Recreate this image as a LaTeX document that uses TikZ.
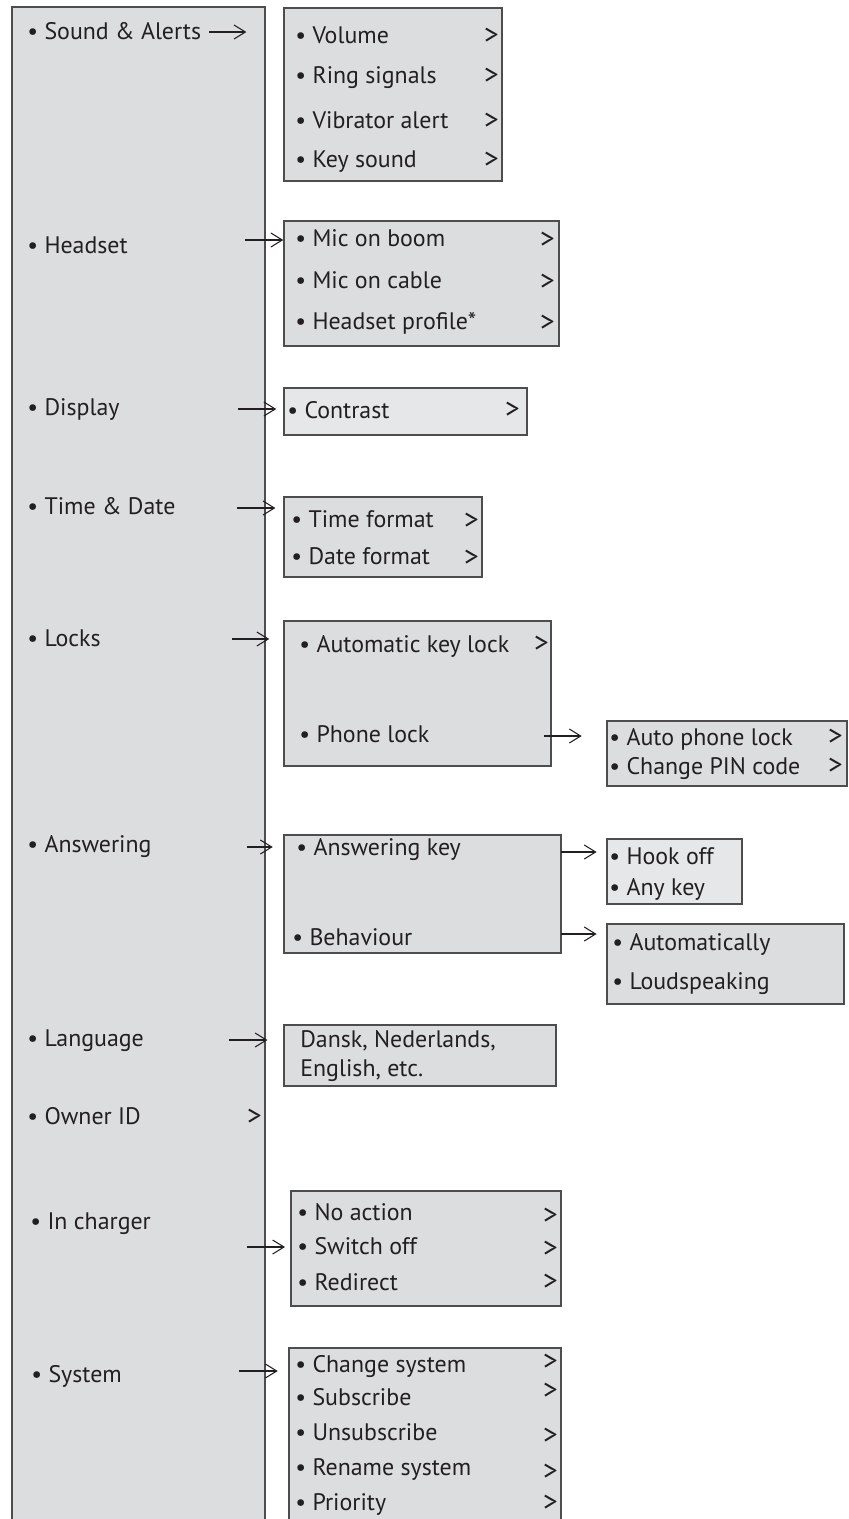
\documentclass[tikz,border=0pt]{standalone}
\usepackage{fontspec}
\setmainfont{PT Sans}
\usetikzlibrary{arrows.meta,fit}
\definecolor{panelgray}{HTML}{DCDDDF}
\definecolor{panellight}{HTML}{E6E7E8}
\definecolor{edgegray}{HTML}{4D4D4D}
\definecolor{inkgray}{HTML}{231F20}
\tikzset{
  menubox/.style={draw=edgegray,line width=0.8pt,fill=panelgray,inner sep=0pt},
  lightbox/.style={menubox,fill=panellight},
  item/.style={anchor=base west,inner sep=0pt,text=inkgray,font=\fontsize{13.6}{16}\selectfont},
  more/.style={anchor=base east,inner sep=0pt,text=inkgray,font=\fontsize{16.5}{18}\selectfont},
  menuarrow/.style={draw=inkgray,line width=0.6pt,-{Straight Barb[length=6.5pt,width=8pt,line width=0.6pt]}}
}

\begin{document}
\begin{tikzpicture}[x=0.02cm,y=-0.02cm]
                \useasboundingbox (0,0) rectangle (849,1519);
                \clip (0,0) rectangle (849,1519);
                % main menu column, open at the bottom
                \node[menubox,fit={(12,7) (265,1530)}](main){};
                \node[item](sound)at(27,39){\textbullet\ Sound \& Alerts};
                \node[item](headset)at(27,253){\textbullet\ Headset};
                \node[item](display)at(27,415){\textbullet\ Display};
                \node[item](timedate)at(27,514){\textbullet\ Time \& Date};
                \node[item](locks)at(27,646){\textbullet\ Locks};
                \node[item](answering)at(27,852){\textbullet\ Answering};
                \node[item](language)at(27,1046){\textbullet\ Language};
                \node[item](owner)at(27,1124){\textbullet\ Owner ID};
                \node[more](ownermore)at(262,1125){>};
                \node[item](charger)at(30,1229){\textbullet\ In charger};
                \node[item](system)at(31,1382){\textbullet\ System};
                % sub menus
                \node[menubox,fit={(284,8) (502,181)}](soundbox){};
                \foreach \t/\y [count=\i] in {Volume/43,Ring signals/83,Vibrator alert/128,Key sound/167}{
                    \node[item](snd\i)at(295,\y){\textbullet\ \t};
                    \node[more](sndm\i)at(499,\y+1){>};
                }
                \node[menubox,fit={(284,221) (559,346)}](headsetbox){};
                \foreach \t/\y [count=\i] in {Mic on boom/246,Mic on cable/288,Headset profile*/329}{
                    \node[item](hs\i)at(295,\y){\textbullet\ \t};
                    \node[more](hsm\i)at(555,\y+2){>};
                }
                \node[lightbox,fit={(284,388) (527,435)}](displaybox){};
                \node[item](contrast)at(287,418){\textbullet\ Contrast};
                \node[more](contrastm)at(520,418){>};
                \node[menubox,fit={(284,497) (482,577)}](timebox){};
                \node[item](timefmt)at(291,527){\textbullet\ Time format};
                \node[more](timefmtm)at(479,529){>};
                \node[item](datefmt)at(291,564){\textbullet\ Date format};
                \node[more](datefmtm)at(479,566){>};
                \node[menubox,fit={(284,621) (551,766)}](locksbox){};
                \node[item](keylock)at(299,652){\textbullet\ Automatic key lock};
                \node[more](keylockm)at(549,652){>};
                \node[item](phonelock)at(299,742){\textbullet\ Phone lock};
                \node[menubox,fit={(607,721) (847,786)}](phonebox){};
                \node[item](autophone)at(609,745){\textbullet\ Auto phone lock};
                \node[more](autophonem)at(843,745){>};
                \node[item](pincode)at(609,774){\textbullet\ Change PIN code};
                \node[more](pincodem)at(843,774){>};
                \node[menubox,fit={(284,835) (561,953)}](answerbox){};
                \node[item](answerkey)at(296,855){\textbullet\ Answering key};
                \node[item](behaviour)at(292,945){\textbullet\ Behaviour};
                \node[lightbox,fit={(607,839) (742,904)}](keybox){};
                \node[item](hookoff)at(609,864){\textbullet\ Hook off};
                \node[item](anykey)at(609,895){\textbullet\ Any key};
                \node[menubox,fit={(607,924) (844,1004)}](behavebox){};
                \node[item](auto)at(612,950){\textbullet\ Automatically};
                \node[item](loud)at(612,989){\textbullet\ Loudspeaking};
                \node[menubox,fit={(284,1025) (556,1086)}](langbox){};
                \node[item](langs1)at(300,1047){Dansk, Nederlands,};
                \node[item](langs2)at(300,1076){English, etc.};
                \node[menubox,fit={(291,1191) (561,1306)}](chargerbox){};
                \foreach \t/\y [count=\i] in {No action/1220,Switch off/1254,Redirect/1290}{
                    \node[item](chg\i)at(297,\y){\textbullet\ \t};
                }
                \foreach \y [count=\i] in {1224,1257,1290}{
                    \node[more](chgm\i)at(558,\y){>};
                }
                \node[menubox,fit={(289,1348) (561,1530)}](systembox){};
                \foreach \t/\y [count=\i] in {Change system/1372,Subscribe/1405,Unsubscribe/1440,Rename system/1475,Priority/1510}{
                    \node[item](sys\i)at(295,\y){\textbullet\ \t};
                }
                \foreach \y [count=\i] in {1370,1399,1444,1480,1511}{
                    \node[more](sysm\i)at(558,\y){>};
                }
                % arrows
                \coordinate(aSound)at(209,32);
                \coordinate(aHeadset)at(245,240);
                \coordinate(aDisplay)at(238,409);
                \coordinate(aTime)at(237,508);
                \coordinate(aLocks)at(232,639);
                \coordinate(aPhone)at(544,736);
                \coordinate(aAnswer)at(247,847);
                \coordinate(aKey)at(561,852);
                \coordinate(aBehave)at(561,934);
                \coordinate(aLang)at(229,1040);
                \coordinate(aCharger)at(247,1247);
                \coordinate(aSystem)at(239,1371);
                \draw[menuarrow,shorten >=21pt](aSound)--(aSound-|soundbox.west);
                \draw[menuarrow](aHeadset)--(aHeadset-|headsetbox.west);
                \draw[menuarrow,shorten >=4pt](aDisplay)--(aDisplay-|displaybox.west);
                \draw[menuarrow,shorten >=4.5pt](aTime)--(aTime-|timebox.west);
                \draw[menuarrow,shorten >=8pt](aLocks)--(aLocks-|locksbox.west);
                \draw[menuarrow,shorten >=14pt](aPhone)--(aPhone-|phonebox.west);
                \draw[menuarrow,shorten >=6pt](aAnswer)--(aAnswer-|answerbox.west);
                \draw[menuarrow,shorten >=5.5pt](aKey)--(aKey-|keybox.west);
                \draw[menuarrow,shorten >=5.5pt](aBehave)--(aBehave-|behavebox.west);
                \draw[menuarrow,shorten >=9pt](aLang)--(aLang-|langbox.west);
                \draw[menuarrow,shorten >=3pt](aCharger)--(aCharger-|chargerbox.west);
                \draw[menuarrow,shorten >=6pt](aSystem)--(aSystem-|systembox.west);
            \end{tikzpicture}
\end{document}
